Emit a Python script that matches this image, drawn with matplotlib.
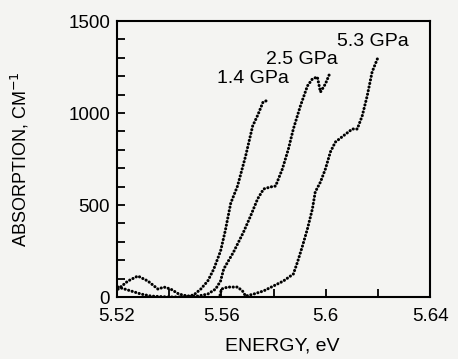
import matplotlib
matplotlib.use("Agg")
import matplotlib.pyplot as plt
from matplotlib.ticker import MultipleLocator

# Absorption edge at three pressures
e_14 = [5.5204, 5.5242, 5.5280, 5.5318, 5.5357, 5.5380, 5.5406, 5.5437, 5.5471,
        5.5494, 5.5521, 5.5548, 5.5571, 5.5597, 5.5615, 5.5636, 5.5662, 5.5693,
        5.5720, 5.5740, 5.5760, 5.5780]
a_14 = [43, 87, 114, 87, 43, 54, 43, 16, 5,
        11, 43, 87, 152, 250, 360, 510, 603, 766,
        929, 990, 1060, 1070]

e_25 = [5.5204, 5.5253, 5.5292, 5.5330, 5.5395, 5.5456, 5.5510, 5.5548, 5.5578,
        5.5597, 5.5609, 5.5647, 5.5685, 5.5712, 5.5739, 5.5762, 5.5788, 5.5808,
        5.5834, 5.5857, 5.5876, 5.5903, 5.5930, 5.5949, 5.5968, 5.5980, 5.5999,
        5.6018]
a_25 = [54, 33, 16, 5, 0, 0, 5, 16, 43,
        87, 152, 245, 353, 440, 533, 587, 598, 603,
        696, 804, 913, 1038, 1147, 1185, 1196, 1114, 1158,
        1223]

e_53 = [5.5595, 5.5600, 5.5624, 5.5662, 5.5681, 5.5693, 5.5724, 5.5762, 5.5800,
        5.5838, 5.5876, 5.5892, 5.5911, 5.5930, 5.5949, 5.5960, 5.5980, 5.5999,
        5.6018, 5.6037, 5.6067, 5.6102, 5.6121, 5.6140, 5.6159, 5.6178, 5.6201]
a_53 = [10, 43, 54, 54, 33, 5, 16, 33, 60,
        87, 125, 190, 277, 370, 478, 571, 625, 696,
        788, 842, 875, 913, 913, 984, 1092, 1223, 1304]

labels = ["1.4 GPa", "2.5 GPa", "5.3 GPa"]
label_x = [5.5720, 5.5910, 5.6180]
label_y = [1185, 1293, 1386]

plt.rcParams["font.family"] = ["Liberation Sans", "DejaVu Sans"]

fig = plt.figure(figsize=(4.58, 3.59), dpi=100)
fig.patch.set_facecolor("#f4f4f2")
ax = fig.add_axes([0.2555, 0.1727, 0.6834, 0.7688])
ax.set_facecolor("#f4f4f2")

for e, a in [(e_14, a_14), (e_25, a_25), (e_53, a_53)]:
    ax.plot(e, a, color="black", linewidth=2.2,
            linestyle=(0, (0.05, 1.15)), dash_capstyle="round")

for txt, x, y in zip(labels, label_x, label_y):
    ax.text(x, y, txt, ha="center", va="center", fontsize=14)

ax.set_xlim(5.52, 5.64)
ax.set_ylim(0, 1500)
ax.set_xticks([5.52, 5.56, 5.60, 5.64])
ax.set_xticklabels(["5.52", "5.56", "5.6", "5.64"])
ax.xaxis.set_minor_locator(MultipleLocator(0.02))
ax.yaxis.set_major_locator(MultipleLocator(500))
ax.yaxis.set_minor_locator(MultipleLocator(100))
ax.tick_params(which="both", direction="in", top=False, right=False,
               labelsize=13.5, width=1.3)
ax.tick_params(which="both", length=6)
ax.tick_params(axis="x", pad=8)
ax.tick_params(axis="y", pad=5)
for s in ax.spines.values():
    s.set_linewidth(1.5)

ax.set_xlabel("ENERGY, eV", fontsize=14)
ax.set_ylabel("ABSORPTION, CM$^{-1}$", fontsize=13)
ax.xaxis.set_label_coords(0.527, -0.145)
ax.yaxis.set_label_coords(-0.275, 0.5)

fig.savefig("out.png", dpi=100, facecolor=fig.get_facecolor())
